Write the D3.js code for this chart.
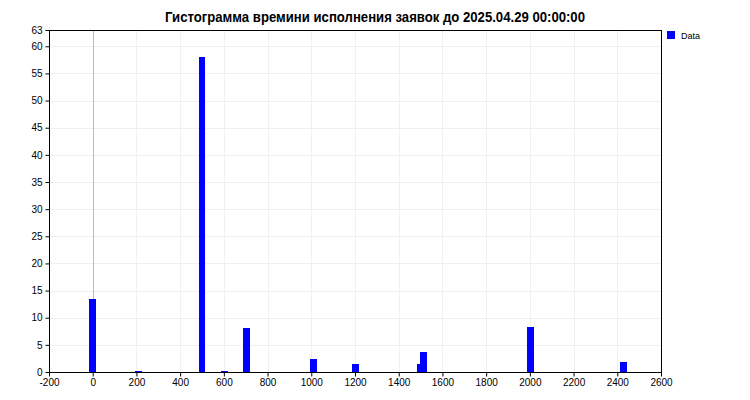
<!DOCTYPE html>
<html><head><meta charset="utf-8">
<script src="https://cdn.jsdelivr.net/npm/d3@7"></script>
<style>body{margin:0;background:#fff;}svg{display:block;}</style>
</head><body>
<svg id="c" width="750" height="400"></svg>
<script>
const title = "Гистограмма времини исполнения заявок до 2025.04.29 00:00:00";
const seriesName = "Data";
const binCenters = [0, 208, 500, 602, 703, 1008, 1204, 1499, 1512, 2002, 2427];
const binValues  = [13.5, 0.25, 58, 0.25, 8.1, 2.4, 1.5, 1.5, 3.7, 8.3, 1.85];
const binWidth = 32;
const xTicks = d3.range(-200, 2601, 200);
const yTicks = [0,5,10,15,20,25,30,35,40,45,50,55,60,63];
const yGrid = [5,10,15,20,25,30,35,40,45,50,55,60];

const svg = d3.select("#c");
const L=49, R=661, T=30, B=372;
const x = d3.scaleLinear().domain([-200,2600]).range([L,R]);
const y = d3.scaleLinear().domain([0,63]).range([B,T]);
const font = "'Liberation Sans', Arial, sans-serif";
const fmt = d => String(d);

// grid
svg.append("g").selectAll("line").data(xTicks.slice(1,-1)).join("line")
  .attr("x1",d=>Math.round(x(d))+0.5).attr("x2",d=>Math.round(x(d))+0.5)
  .attr("y1",T).attr("y2",B).attr("stroke","#f0f0f0");
svg.append("g").selectAll("line").data(yGrid).join("line")
  .attr("y1",d=>Math.round(y(d))+0.5).attr("y2",d=>Math.round(y(d))+0.5)
  .attr("x1",L).attr("x2",R).attr("stroke","#f0f0f0");
// zero line
svg.append("line").attr("x1",Math.round(x(0))+0.5).attr("x2",Math.round(x(0))+0.5)
  .attr("y1",T).attr("y2",B).attr("stroke","#bbbbbb");

// bars
svg.append("g").selectAll("rect").data(binCenters).join("rect")
  .attr("x",(d)=>Math.round(x(d-binWidth/2)))
  .attr("width",(d)=>Math.round(x(d+binWidth/2))-Math.round(x(d-binWidth/2)))
  .attr("y",(d,i)=>Math.round(y(binValues[i])))
  .attr("height",(d,i)=>B-Math.round(y(binValues[i])))
  .attr("fill","#0000ff");

// frame
svg.append("rect").attr("x",L+0.5).attr("y",T+0.5).attr("width",R-L).attr("height",B-T)
  .attr("fill","none").attr("stroke","#000");

// axes
const xa = svg.append("g").attr("transform",`translate(0,${B+0.5})`)
  .call(d3.axisBottom(x).tickValues(xTicks).tickSize(4).tickFormat(fmt));
const ya = svg.append("g").attr("transform",`translate(${L+0.5},0)`)
  .call(d3.axisLeft(y).tickValues(yTicks).tickSize(4).tickFormat(fmt));
[xa,ya].forEach(a=>{
  a.select(".domain").remove();
  a.selectAll("line").attr("stroke","#000");
  a.selectAll("text").attr("font-family",font).attr("font-size",10).attr("fill","#000");
});
xa.selectAll("text").attr("dy","0.9em").attr("y",4);
ya.selectAll("text").attr("x",-7);

// title
svg.append("text").attr("x",375).attr("y",22).attr("text-anchor","middle")
  .attr("font-family",font).attr("font-weight","bold").attr("font-size",14)
  .attr("textLength",420).attr("lengthAdjust","spacingAndGlyphs")
  .text(title);

// legend
svg.append("rect").attr("x",667).attr("y",31).attr("width",8).attr("height",8).attr("fill","#0000ff");
svg.append("text").attr("x",681).attr("y",38.5).attr("font-family",font).attr("font-size",9).text(seriesName);
</script>
</body></html>
